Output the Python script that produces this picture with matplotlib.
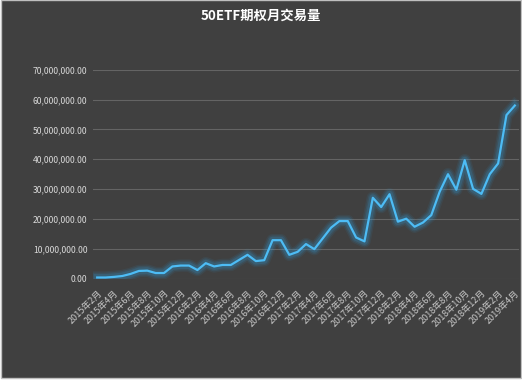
import numpy as np
import matplotlib
matplotlib.use('Agg')
import matplotlib.pyplot as plt
from matplotlib.ticker import FuncFormatter
from matplotlib.patches import Rectangle

plt.rcParams['font.family'] = ['Noto Sans CJK SC', 'DejaVu Sans']

# monthly volumes, 2015-02 .. 2019-04
months = []
for y in range(2015, 2020):
    for m in range(1, 13):
        if (y, m) < (2015, 2) or (y, m) > (2019, 4):
            continue
        months.append('%d年%d月' % (y, m))

volumes = [0.4e6, 0.4e6, 0.6e6, 0.9e6, 1.6e6, 2.6e6, 2.7e6, 1.9e6, 1.9e6, 4.1e6,
           4.4e6, 4.4e6, 2.9e6, 5.2e6, 4.1e6, 4.6e6, 4.6e6, 6.3e6, 8.0e6, 5.9e6,
           6.2e6, 12.9e6, 12.9e6, 8.0e6, 9.0e6, 11.6e6, 9.9e6, 13.5e6, 17.1e6, 19.3e6,
           19.3e6, 13.8e6, 12.5e6, 27.1e6, 24.0e6, 28.3e6, 19.1e6, 20.1e6, 17.4e6, 18.8e6,
           21.3e6, 29.1e6, 35.0e6, 29.8e6, 39.7e6, 30.1e6, 28.4e6, 35.0e6, 38.6e6, 54.8e6,
           58.0e6]

bg = '#404040'
fig = plt.figure(figsize=(5.22, 3.8), dpi=100)
fig.patch.set_facecolor('white')
fig.patches.append(Rectangle((1/522, 2/380), 520/522, 378/380, transform=fig.transFigure,
                             facecolor=bg, edgecolor='#bfbfbf', linewidth=1, zorder=-10))

ax = fig.add_axes([93/522, 1 - 278.7/380, 426/522, 209/380])
ax.set_facecolor(bg)
x = np.arange(len(volumes))

# glow
for lw, a in [(9, 0.08), (7, 0.12), (5, 0.18)]:
    ax.plot(x, volumes, color='#2f9fe0', lw=lw, alpha=a, solid_joinstyle='round', zorder=2)
ax.plot(x, volumes, color='#4dbcf5', lw=1.6, solid_joinstyle='round', zorder=3)

ax.set_xlim(-0.5, len(volumes) - 0.5)
ax.set_ylim(0, 70e6)
ax.set_yticks(np.arange(0, 70e6 + 1, 10e6))
ax.yaxis.set_major_formatter(FuncFormatter(lambda v, p: '{:,.2f}'.format(v)))
ax.grid(axis='y', color='#646464', lw=0.8)
ax.set_axisbelow(True)
for s in ax.spines.values():
    s.set_visible(False)
ax.tick_params(axis='y', length=0, pad=4, labelsize=6.2, labelcolor='#d9d9d9')
ax.tick_params(axis='x', length=0, pad=7, labelsize=6.5, labelcolor='#c8c8c8')

ax.set_xticks(x[::2])
ax.set_xticklabels(months[::2], rotation=45, ha='right', rotation_mode='anchor')

fig.text(0.5, 1 - 16/380, '50ETF期权月交易量', ha='center', va='center',
         color='white', fontsize=9.6, fontweight='bold')

fig.savefig('out.png', dpi=100, facecolor=fig.get_facecolor())
